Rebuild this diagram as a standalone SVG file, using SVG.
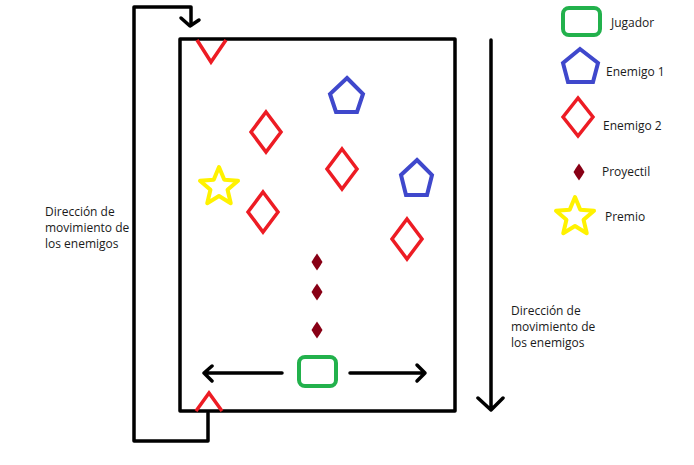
<svg xmlns="http://www.w3.org/2000/svg" width="694" height="465" viewBox="0 0 694 465">
<style>
.blk{fill:none;stroke:#000;stroke-width:3.5;stroke-linecap:round;stroke-linejoin:round}
.red{fill:none;stroke:#ed1c24;stroke-width:3.5;stroke-linejoin:miter}
.blue{fill:none;stroke:#3f48cc;stroke-width:4;stroke-linejoin:miter}
.grn{fill:none;stroke:#22b14c;stroke-width:4}
.yel{fill:none;stroke:#fff200;stroke-width:4;stroke-linejoin:round}
.proj{fill:#880015}
.t{font-family:"Open Sans","Liberation Sans",sans-serif;font-size:12px;fill:#1a1a1a}
</style>
<defs>
<polygon id="dia" points="0,-20 15,0 0,20 -15,0"/>
<polygon id="star" points="0,-20 5.29,-7.28 19.02,-6.18 8.56,2.78 11.76,16.18 0,9 -11.76,16.18 -8.56,2.78 -19.02,-6.18 -5.29,-7.28"/>
<path id="proj" d="M0,-8.5 Q3.5,-3.5 5.5,0 Q3.5,3.5 0,8.5 Q-3.5,3.5 -5.5,0 Q-3.5,-3.5 0,-8.5 Z"/>
</defs>
<rect width="694" height="465" fill="#fff"/>
<g id="board"><rect x="180" y="39" width="275" height="372" class="blk" stroke-linecap="square" stroke-linejoin="miter"/></g>
<g id="enemy2-top"><polyline class="red" points="197,40 211,62 226,40"/></g>
<g id="enemy2-bottom"><polyline class="red" points="196,411 209,393 222,411"/></g>
<g id="enemy1-a"><polygon class="blue" points="347,78 363,94 357,112 336,112 330,94"/></g>
<g id="enemy1-b"><polygon class="blue" points="417,160 432,175 427,195 406,195 401,175"/></g>
<g id="enemy2-a"><use href="#dia" class="red" transform="translate(266,132)"/></g>
<g id="enemy2-b"><use href="#dia" class="red" transform="translate(342,169)"/></g>
<g id="enemy2-c"><use href="#dia" class="red" transform="translate(263,212)"/></g>
<g id="enemy2-d"><use href="#dia" class="red" transform="translate(407,239)"/></g>
<g id="prize"><use href="#star" class="yel" transform="translate(219,187)"/></g>
<g id="projectiles">
<use href="#proj" class="proj" transform="translate(317,262)"/>
<use href="#proj" class="proj" transform="translate(317,292)"/>
<use href="#proj" class="proj" transform="translate(317,330)"/>
</g>
<g id="player"><rect x="299" y="357" width="37" height="29" rx="6" class="grn"/></g>
<g id="connectors">
<path class="blk" d="M282,373 H204 M212,366 L204,373 L212,381"/>
<path class="blk" d="M350,373 H425 M417,365 L425,373 L417,381"/>
<path class="blk" d="M491,40 V410 M478,398 L491,410 L503,398"/>
<path class="blk" stroke-linecap="square" d="M208,413 V441 H134 V7 H191 V25"/>
<path class="blk" d="M181,18 L190,26 L199,20"/>
</g>
<g id="label-left">
<text class="t" x="45" y="216">Dirección de</text>
<text class="t" x="45" y="232">movimiento de</text>
<text class="t" x="45" y="248">los enemigos</text>
</g>
<g id="label-right">
<text class="t" x="511" y="315">Dirección de</text>
<text class="t" x="511" y="331">movimiento de</text>
<text class="t" x="511" y="347">los enemigos</text>
</g>
<g id="legend">
<g id="legend-jugador"><rect x="563" y="8" width="37" height="27" rx="6" class="grn"/><text class="t" x="611" y="27">Jugador</text></g>
<g id="legend-enemigo1"><polygon class="blue" points="580,49 598,63 593,82 568,82 563,63"/><text class="t" x="606" y="76">Enemigo 1</text></g>
<g id="legend-enemigo2"><use href="#dia" class="red" transform="translate(578,117) scale(1,0.95)"/><text class="t" x="603" y="130">Enemigo 2</text></g>
<g id="legend-proyectil"><use href="#proj" class="proj" transform="translate(579,172)"/><text class="t" x="602" y="176">Proyectil</text></g>
<g id="legend-premio"><use href="#star" class="yel" transform="translate(575,217)"/><text class="t" x="605" y="221">Premio</text></g>
</g>
</svg>
